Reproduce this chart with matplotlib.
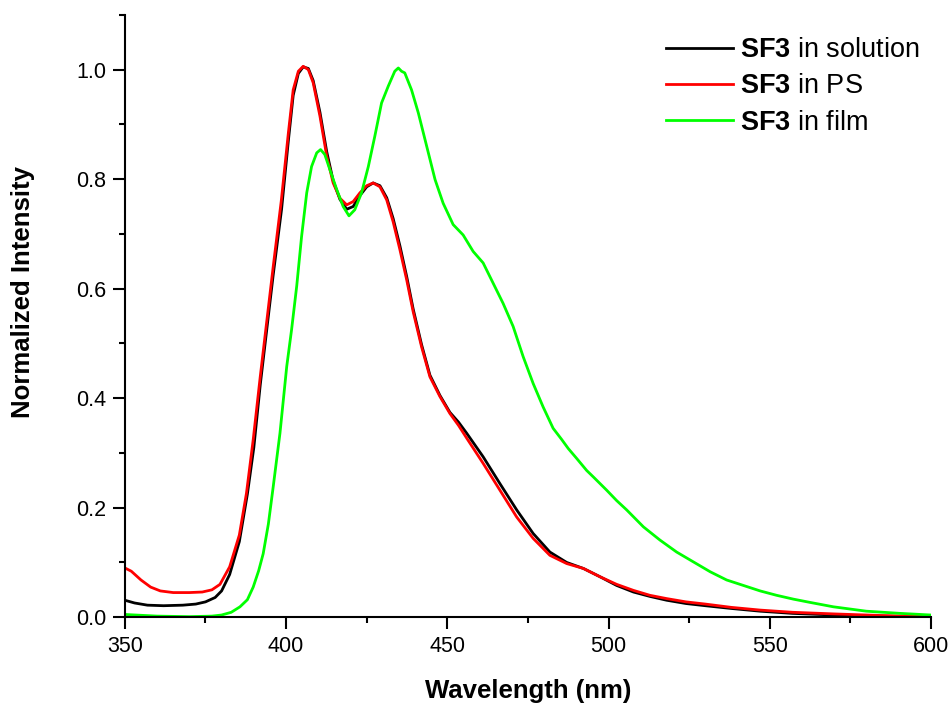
import numpy as np
import matplotlib
matplotlib.use('Agg')
import matplotlib.pyplot as plt
from matplotlib.ticker import MultipleLocator

# Spectra (wavelength in nm, normalized intensity)
wl_solution = [350, 353, 357, 362, 368, 372, 375, 378, 380, 382.5, 385.5, 388, 390, 392, 394,
               396, 398.6, 400.7, 402.2, 403.8, 405.3, 406.9, 408.4, 410.5, 412.6, 414.6, 416.7,
               418.8, 420.8, 422.9, 425, 427, 429.1, 431.2, 433.2, 435.3, 437.4, 439.4, 442,
               444.6, 447.7, 450.8, 453.5, 456, 461.1, 466.3, 471.5, 476.6, 481.8, 487, 492.2,
               497.3, 502.5, 507.7, 512.8, 518, 524, 530, 538, 547, 557, 570, 585, 600]
int_solution = [0.031, 0.026, 0.022, 0.021, 0.022, 0.024, 0.028, 0.036, 0.048, 0.078, 0.138,
                0.225, 0.31, 0.425, 0.525, 0.625, 0.745, 0.87, 0.953, 0.993, 1.005, 1.002,
                0.98, 0.922, 0.85, 0.797, 0.763, 0.745, 0.75, 0.77, 0.786, 0.793, 0.788,
                0.766, 0.728, 0.678, 0.622, 0.563, 0.498, 0.442, 0.405, 0.374, 0.356, 0.336,
                0.293, 0.244, 0.196, 0.153, 0.119, 0.100, 0.089, 0.074, 0.058, 0.046, 0.038,
                0.031, 0.025, 0.021, 0.016, 0.011, 0.007, 0.004, 0.002, 0.0]

wl_ps = [350, 352, 355, 358, 361, 365, 370, 374, 377, 379.5, 382.5, 385.5, 387.7, 389.8, 392,
         394, 396, 398.5, 400.7, 402.2, 403.8, 405.3, 406.9, 408.4, 410.5, 412.6, 414.6, 416.7,
         418.8, 420.8, 422.9, 425, 427, 429.1, 431.2, 433.2, 435.3, 437.4, 439.4, 442, 444.6,
         447.7, 450.8, 453.5, 456, 461.1, 466.3, 471.5, 476.6, 481.8, 487, 492.2, 497.3, 502.5,
         507.7, 512.8, 518, 524, 530, 538, 547, 557, 570, 585, 600]
int_ps = [0.090, 0.084, 0.068, 0.055, 0.048, 0.045, 0.045, 0.046, 0.050, 0.060, 0.092, 0.150,
          0.226, 0.324, 0.44, 0.54, 0.64, 0.76, 0.884, 0.963, 0.997, 1.006, 1.0, 0.976, 0.915,
          0.842, 0.793, 0.765, 0.753, 0.759, 0.775, 0.788, 0.793, 0.786, 0.762, 0.722, 0.671,
          0.616, 0.558, 0.494, 0.439, 0.403, 0.372, 0.350, 0.327, 0.281, 0.232, 0.183, 0.144,
          0.113, 0.098, 0.089, 0.074, 0.060, 0.049, 0.040, 0.034, 0.028, 0.024, 0.018, 0.013,
          0.009, 0.006, 0.003, 0.001]

wl_film = [350, 360, 370, 377, 380, 383, 385.7, 388, 389.8, 391.5, 392.9, 394.5, 396, 398.1,
           400.2, 401.7, 403.3, 404.8, 406.4, 407.9, 409.5, 410.7, 412, 413.6, 415.7, 417.7,
           419.5, 421.3, 423.4, 425.5, 427.5, 429.6, 431.7, 433.7, 434.8, 435.8, 436.8, 438.9,
           441, 443.6, 446.2, 448.7, 451.8, 454.9, 458, 461.1, 464.2, 467.3, 470.4, 473.5,
           476.6, 479.7, 482.8, 485.4, 487.5, 490.1, 493.2, 495.3, 499.4, 502.5, 505.6, 510.8,
           515.9, 521.1, 526.3, 531.5, 536.6, 541.8, 547, 552.1, 557.3, 562.5, 569.7, 579.9,
           590.4, 600]
int_film = [0.005, 0.002, 0.001, 0.002, 0.004, 0.009, 0.019, 0.032, 0.055, 0.085, 0.116, 0.17,
            0.238, 0.336, 0.458, 0.525, 0.605, 0.695, 0.775, 0.823, 0.848, 0.854, 0.845, 0.817,
            0.781, 0.750, 0.733, 0.744, 0.775, 0.823, 0.878, 0.939, 0.970, 0.997, 1.003, 0.997,
            0.994, 0.963, 0.921, 0.860, 0.799, 0.756, 0.717, 0.698, 0.668, 0.647, 0.610, 0.573,
            0.531, 0.476, 0.427, 0.384, 0.345, 0.325, 0.308, 0.290, 0.268, 0.256, 0.232, 0.213,
            0.196, 0.165, 0.141, 0.119, 0.101, 0.083, 0.068, 0.058, 0.048, 0.040, 0.033, 0.027,
            0.019, 0.011, 0.007, 0.004]

labels = [r'$\mathbf{SF3}$ in solution', r'$\mathbf{SF3}$ in PS', r'$\mathbf{SF3}$ in film']

# Arial-like look
plt.rcParams['font.family'] = ['Liberation Sans', 'DejaVu Sans']
plt.rcParams['mathtext.fontset'] = 'custom'
plt.rcParams['mathtext.bf'] = 'Liberation Sans:bold'
plt.rcParams['mathtext.rm'] = 'Liberation Sans'

fig = plt.figure(figsize=(9.53, 7.07), dpi=100)
ax = fig.add_axes([0.131, 0.127, 0.846, 0.852])

ax.plot(wl_solution, int_solution, color='#000000', lw=2.0, label=labels[0])
ax.plot(wl_ps, int_ps, color='#ff0000', lw=2.0, label=labels[1])
ax.plot(wl_film, int_film, color='#00ff00', lw=2.0, label=labels[2])

ax.set_xlim(350, 600)
ax.set_ylim(0, 1.1)
ax.xaxis.set_major_locator(MultipleLocator(50))
ax.xaxis.set_minor_locator(MultipleLocator(25))
ax.yaxis.set_major_locator(MultipleLocator(0.2))
ax.yaxis.set_minor_locator(MultipleLocator(0.1))
ax.yaxis.set_major_formatter(plt.FormatStrFormatter('%.1f'))

# only left and bottom axis lines
ax.spines['top'].set_visible(False)
ax.spines['right'].set_visible(False)
ax.spines['left'].set_linewidth(1.5)
ax.spines['bottom'].set_linewidth(1.5)
ax.tick_params(which='major', direction='out', length=8.5, width=1.5, labelsize=15.5, pad=5)
ax.tick_params(which='minor', direction='out', length=4.5, width=1.5)

ax.set_xlabel('Wavelength (nm)', fontsize=18.5, fontweight='bold')
ax.set_ylabel('Normalized Intensity', fontsize=18.5, fontweight='bold')
ax.xaxis.set_label_coords(0.5, -0.103)
ax.yaxis.set_label_coords(-0.112, 0.54)

ax.legend(loc='upper right', bbox_to_anchor=(1.006, 0.99), frameon=False, fontsize=19.5,
          handlelength=2.5, handletextpad=0.25, labelspacing=0.38, borderaxespad=0.2)

plt.savefig('out.png', dpi=100)
